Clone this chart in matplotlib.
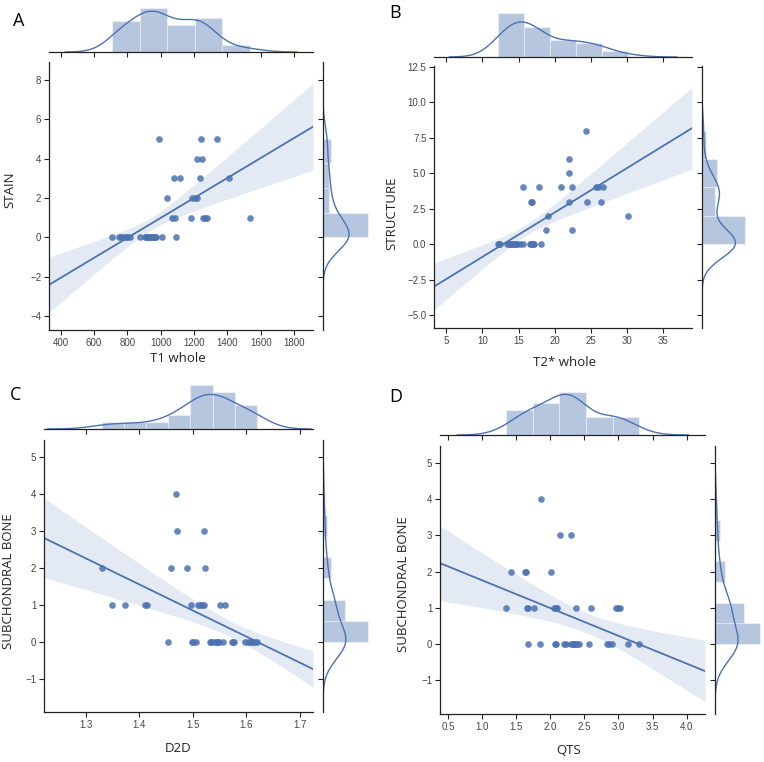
import numpy as np
import matplotlib
matplotlib.use("Agg")
import matplotlib.pyplot as plt

# ---- data (stacked points repeated where the marginals need them)
t1_whole = [710, 750, 764, 770, 784, 800, 800, 814, 874, 904, 910, 918, 925, 930,
            940, 944, 950, 958, 965, 970, 1008, 1094,
            1070, 1084, 1184, 1254, 1266, 1278, 1534,
            1040, 1188, 1206, 1220,
            1080, 1114, 1236, 1412,
            1220, 1248,
            988, 1240, 1340]
stain = [0] * 22 + [1] * 7 + [2] * 4 + [3] * 4 + [4] * 2 + [5] * 3

t2_whole = [12.2, 12.3, 12.45, 13.45, 13.6, 13.7, 13.9, 14.0, 14.1, 14.3, 14.5,
            14.65, 14.8, 15.2, 15.6, 16.6, 16.7, 16.85, 17.0, 17.1, 18.1,
            18.75, 22.4,
            19.0, 30.1,
            16.7, 16.9, 21.9, 24.4, 26.4,
            15.6, 17.8, 20.9, 22.3, 25.65, 26.0, 26.7,
            21.9, 21.9, 24.3]
structure = [0] * 21 + [1] * 2 + [2] * 2 + [3] * 5 + [4] * 7 + [5, 6, 8]

d2d = [1.453, 1.498, 1.500, 1.507, 1.532, 1.535, 1.537, 1.541, 1.543, 1.545, 1.548,
       1.550, 1.557, 1.574, 1.576, 1.578, 1.597, 1.604, 1.608, 1.610, 1.612, 1.616, 1.620,
       1.349, 1.373, 1.410, 1.414, 1.497, 1.510, 1.514, 1.518, 1.5215, 1.551, 1.561,
       1.330, 1.459, 1.490, 1.523,
       1.470, 1.5215,
       1.468]
bone_c = [0] * 23 + [1] * 11 + [2] * 4 + [3] * 2 + [4]

qts = [1.670, 1.851, 2.070, 2.089, 2.202, 2.231, 2.299, 2.328, 2.340, 2.358, 2.370,
       2.387, 2.426, 2.572, 2.830, 2.860, 2.904, 3.147, 3.308,
       1.353, 1.660, 1.680, 1.763, 2.050, 2.080, 2.104, 2.372, 2.597, 2.962, 2.991, 3.021,
       1.426, 1.631, 1.651, 2.007,
       2.143, 2.309,
       1.865]
bone_d = [0] * 19 + [1] * 12 + [2] * 4 + [3] * 2 + [4]

W, H = 764, 762
BLUE = "#4C72B0"
TICK_FONT = "Liberation Sans"
LABEL_FONT = "Open Sans"


def box(l, t, r, b):
    # pixel box -> figure fraction rect
    return [l / W, 1 - b / H, (r - l) / W, (b - t) / H]


def kde(data):
    data = np.asarray(data, float)
    n = len(data)
    bw = np.std(data, ddof=1) * n ** (-0.2)
    grid = np.linspace(data.min() - 3 * bw, data.max() + 3 * bw, 300)
    z = (grid[:, None] - data[None, :]) / bw
    dens = np.exp(-0.5 * z ** 2).sum(axis=1) / (n * bw * np.sqrt(2 * np.pi))
    return grid, dens


def fit_band(x, y, xs):
    # OLS fit with a robust (sandwich) 95% band, close to a pairs bootstrap
    X = np.column_stack([np.ones_like(x), x])
    XtX_inv = np.linalg.inv(X.T @ X)
    beta = XtX_inv @ X.T @ y
    e = y - X @ beta
    n = len(x)
    meat = X.T @ (X * (e ** 2)[:, None]) * n / (n - 2)
    cov = XtX_inv @ meat @ XtX_inv
    Xs = np.column_stack([np.ones_like(xs), xs])
    yh = Xs @ beta
    se = np.sqrt(np.einsum("ij,jk,ik->i", Xs, cov, Xs))
    return yh, 1.96 * se


def joint(fig, letter, x, y, xlabel, ylabel, main, top, right, xlim, ylim,
          xticks, yticks, xbins, ybins, letter_pos, xlab_pos, ylab_pos):
    x = np.asarray(x, float)
    y = np.asarray(y, float)

    ax = fig.add_axes(box(*main))
    axt = fig.add_axes(box(*top), sharex=ax)
    axr = fig.add_axes(box(*right), sharey=ax)

    # regression line + 95% band
    xs = np.linspace(xlim[0], xlim[1], 200)
    yh, ci = fit_band(x, y, xs)
    ax.fill_between(xs, yh - ci, yh + ci, color=BLUE, alpha=0.15, lw=0)
    ax.plot(xs, yh, color=BLUE, lw=1.3)
    ax.scatter(x, y, s=23, color=BLUE, alpha=0.85, lw=0, zorder=3)

    ax.set_xticks(xticks)
    ax.set_yticks(yticks)

    # marginals
    axt.hist(x, bins=xbins, density=True, color=BLUE, alpha=0.4, edgecolor="white", lw=0.8)
    g, d = kde(x)
    axt.plot(g, d, color=BLUE, lw=1)
    hx = np.histogram(x, bins=xbins, density=True)[0].max()
    axt.set_ylim(0, max(hx, d.max()) * 1.04)

    axr.hist(y, bins=ybins, density=True, orientation="horizontal", color=BLUE,
             alpha=0.4, edgecolor="white", lw=0.8)
    g, d = kde(y)
    axr.plot(d, g, color=BLUE, lw=1)
    hy = np.histogram(y, bins=ybins, density=True)[0].max()
    axr.set_xlim(0, max(hy, d.max()) * 1.04)
    ax.set_ylim(ylim)
    ax.set_xlim(xlim)

    for a_ in (ax, axt, axr):
        for sp in ("top", "right"):
            a_.spines[sp].set_visible(False)
        for sp in a_.spines.values():
            sp.set_linewidth(0.9)
            sp.set_color("#222222")
        a_.tick_params(length=3.5, width=0.8, color="#222222", labelsize=7,
                       labelcolor="#444444", pad=2)
    axt.spines["left"].set_visible(False)
    axt.tick_params(left=False, labelleft=False, labelbottom=False)
    axr.spines["bottom"].set_visible(False)
    axr.tick_params(bottom=False, labelbottom=False, labelleft=False)
    for lab in ax.get_xticklabels() + ax.get_yticklabels():
        lab.set_fontfamily(TICK_FONT)

    fig.text(letter_pos[0] / W, 1 - letter_pos[1] / H, letter, fontsize=13,
             family=LABEL_FONT, ha="center", va="center")
    fig.text(xlab_pos[0] / W, 1 - xlab_pos[1] / H, xlabel, fontsize=9.5,
             family=LABEL_FONT, ha="center", va="center", color="#222222")
    fig.text(ylab_pos[0] / W, 1 - ylab_pos[1] / H, ylabel, fontsize=9.5,
             family=LABEL_FONT, ha="center", va="center", rotation=90, color="#222222")


fig = plt.figure(figsize=(W / 100, H / 100), dpi=100)

joint(fig, "A", t1_whole, stain, "T1 whole", "STAIN",
      (49, 62, 313, 330), (49, 6, 313, 52), (323, 62, 370, 330),
      (330, 1914), (-4.7, 8.9), np.arange(400, 1801, 200), np.arange(-4, 9, 2),
      5, 4, (19, 21), (178, 358), (10, 190))

joint(fig, "B", t2_whole, structure, "T2* whole", "STRUCTURE",
      (434, 66, 692, 328), (434, 11, 692, 57), (702, 66, 747, 328),
      (3.3, 38.95), (-5.9, 12.55), np.arange(5, 36, 5), np.arange(-5, 12.6, 2.5),
      5, 4, (395, 13), (565, 362), (392, 213))

joint(fig, "C", d2d, bone_c, "D2D", "SUBCHONDRAL BONE",
      (44, 440, 313, 712), (44, 383, 313, 429), (323, 440, 370, 712),
      (1.222, 1.725), (-1.9, 5.46), [1.3, 1.4, 1.5, 1.6, 1.7], np.arange(-1, 6, 1),
      7, 7, (16, 395), (178, 749), (9, 581))

joint(fig, "D", qts, bone_d, "QTS", "SUBCHONDRAL BONE",
      (440, 446, 705, 714), (440, 390, 705, 435), (715, 446, 762, 714),
      (0.383, 4.27), (-1.94, 5.47), np.arange(0.5, 4.01, 0.5), np.arange(-1, 6, 1),
      5, 7, (396, 397), (569, 751), (404, 584))

fig.savefig("out.png", dpi=100)
